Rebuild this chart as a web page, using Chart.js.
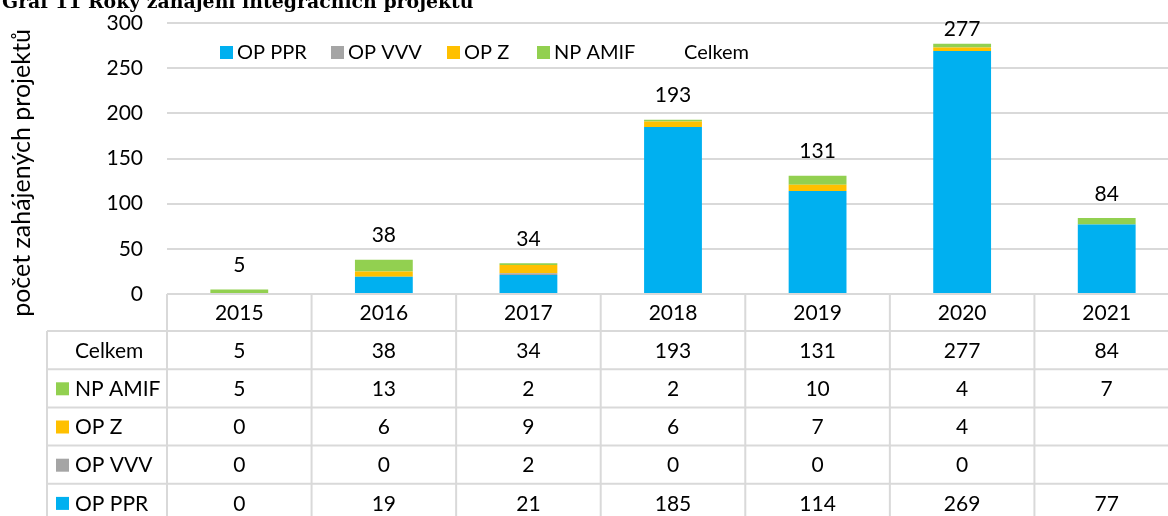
<!DOCTYPE html>
<html>
<head>
<meta charset="utf-8">
<script src="https://cdn.jsdelivr.net/npm/chart.js@4/dist/chart.umd.min.js"></script>
<style>
  html, body { margin: 0; padding: 0; background: #fff; overflow: hidden; }
  #wrap { width: 1180px; height: 516px; }
</style>
</head>
<body>
<div id="wrap"><canvas id="c" width="1180" height="516"></canvas></div>
<script>
const years = ['2015', '2016', '2017', '2018', '2019', '2020', '2021'];
const opPPR  = [0, 19, 21, 185, 114, 269, 77];
const opVVV  = [0, 0, 2, 0, 0, 0, null];
const opZ    = [0, 6, 9, 6, 7, 4, null];
const npAMIF = [5, 13, 2, 2, 10, 4, 7];
const celkem = [5, 38, 34, 193, 131, 277, 84];
const yTicks = [0, 50, 100, 150, 200, 250, 300];

const chartTitle = 'Graf 11 Roky zahájení integračních projektů';
const yTitle = 'počet zahájených projektů';

const FONT = 'Lato, "Liberation Sans", sans-serif';
const GRID = '#d9d9d9';
const LEGEND_X = [220, 331, 447, 537, 684];

const tableRows = [
  { label: 'Celkem', ds: 4 },
  { label: 'NP AMIF', ds: 3 },
  { label: 'OP Z', ds: 2 },
  { label: 'OP VVV', ds: 1 },
  { label: 'OP PPR', ds: 0 }
];

const extras = {
  id: 'extras',
  afterDatasetsDraw(chart) {
    const ctx = chart.ctx;
    const ca = chart.chartArea;
    const xs = chart.scales.x;
    const ds = chart.data.datasets;
    ctx.save();

    // clipped title
    ctx.fillStyle = '#000';
    ctx.font = 'bold 18.9px "DejaVu Serif", serif';
    ctx.textAlign = 'left';
    ctx.textBaseline = 'alphabetic';
    ctx.fillText(chartTitle, 2, 8);

    // y axis title
    ctx.save();
    ctx.translate(22, 173);
    ctx.rotate(-Math.PI / 2);
    ctx.font = '25px ' + FONT;
    ctx.textAlign = 'center';
    ctx.textBaseline = 'middle';
    ctx.fillText(yTitle, 0, 0);
    ctx.restore();

    // legend inside plot
    ctx.font = '20px ' + FONT;
    ctx.textBaseline = 'middle';
    ctx.textAlign = 'left';
    const ly = 52;
    ds.forEach((d, i) => {
      let lx = LEGEND_X[i];
      if (d.type !== 'line') {
        ctx.fillStyle = d.backgroundColor;
        ctx.fillRect(lx, ly - 6, 13, 13);
        lx += 17;
      }
      ctx.fillStyle = '#000';
      ctx.fillText(d.label, lx, ly + 1);
    });

    // total labels
    const meta = chart.getDatasetMeta(4);
    ctx.font = '21px ' + FONT;
    ctx.textAlign = 'center';
    ctx.textBaseline = 'middle';
    meta.data.forEach((pt, i) => {
      let y = pt.y - 24;
      if (y < 29) y = 29;
      ctx.fillText(String(celkem[i]), pt.x, y);
    });

    // data table
    const n = years.length;
    const cw = (ca.right - ca.left) / n;
    const top = ca.bottom;
    const headH = 37;
    const rowH = 38.2;
    const labL = 47;
    const bottom = top + headH + rowH * tableRows.length;
    ctx.strokeStyle = GRID;
    ctx.lineWidth = 2;
    ctx.beginPath();
    ctx.moveTo(ca.left, top); ctx.lineTo(ca.right, top);
    for (let r = 0; r <= tableRows.length; r++) {
      const y = top + headH + r * rowH;
      ctx.moveTo(labL, y); ctx.lineTo(ca.right, y);
    }
    for (let i = 0; i <= n; i++) {
      const x = xs.getPixelForValue(0) - cw / 2 + i * cw;
      ctx.moveTo(x, top); ctx.lineTo(x, bottom);
    }
    ctx.moveTo(labL, top + headH); ctx.lineTo(labL, bottom);
    ctx.stroke();

    ctx.fillStyle = '#000';
    ctx.font = '21px ' + FONT;
    ctx.textAlign = 'center';
    ctx.textBaseline = 'middle';
    years.forEach((yr, i) => {
      ctx.fillText(yr, xs.getPixelForValue(i), top + headH / 2 + 1);
    });
    tableRows.forEach((row, r) => {
      const cy = top + headH + r * rowH + rowH / 2 + 1;
      const d = ds[row.ds];
      if (d.type !== 'line') {
        ctx.fillStyle = d.backgroundColor;
        ctx.fillRect(56, cy - 7, 13, 13);
      }
      ctx.fillStyle = '#000';
      ctx.textAlign = 'left';
      ctx.fillText(row.label, 75, cy);
      ctx.textAlign = 'center';
      d.data.forEach((v, i) => {
        if (v === null || v === undefined) return;
        ctx.fillText(String(v), xs.getPixelForValue(i), cy);
      });
    });
    ctx.restore();
  }
};

new Chart(document.getElementById('c'), {
  data: {
    labels: years,
    datasets: [
      { type: 'bar', label: 'OP PPR', data: opPPR, backgroundColor: '#00B0F0', stack: 's' },
      { type: 'bar', label: 'OP VVV', data: opVVV, backgroundColor: '#A5A5A5', stack: 's' },
      { type: 'bar', label: 'OP Z', data: opZ, backgroundColor: '#FFC000', stack: 's' },
      { type: 'bar', label: 'NP AMIF', data: npAMIF, backgroundColor: '#92D050', stack: 's' },
      { type: 'line', label: 'Celkem', data: celkem, showLine: false, pointRadius: 0, pointHoverRadius: 0, borderColor: 'rgba(0,0,0,0)', backgroundColor: 'rgba(0,0,0,0)', stack: 'total' }
    ]
  },
  options: {
    responsive: false,
    animation: false,
    devicePixelRatio: 1,
    layout: { padding: { top: 23, bottom: 222, left: 0, right: 1 } },
    datasets: { bar: { categoryPercentage: 1, barPercentage: 0.4 } },
    plugins: { legend: { display: false }, tooltip: { enabled: false }, title: { display: false } },
    scales: {
      x: {
        type: 'category',
        offset: true,
        stacked: true,
        display: false
      },
      y: {
        stacked: true,
        min: 0,
        max: 300,
        afterFit(scale) { scale.width = 167; },
        afterBuildTicks(scale) { scale.ticks = yTicks.map(v => ({ value: v })); },
        grid: { color: GRID, lineWidth: 2, drawTicks: true, tickLength: 24, tickColor: 'rgba(0,0,0,0)' },
        border: { display: false },
        ticks: { padding: 0, color: '#000', font: { family: FONT, size: 21 } }
      }
    }
  },
  plugins: [extras]
});
</script>
</body>
</html>
